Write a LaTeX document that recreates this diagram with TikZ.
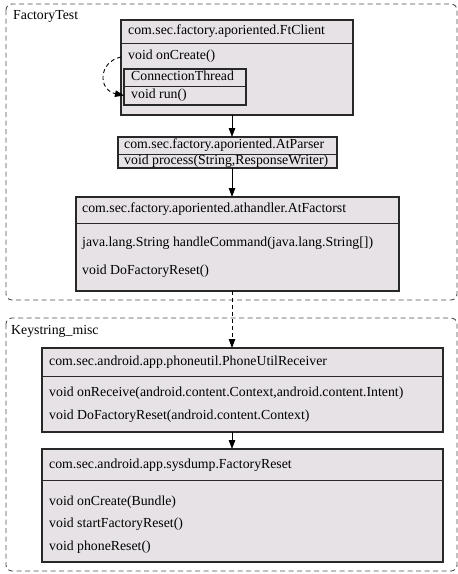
\documentclass[tikz,border=0pt]{standalone}
\usepackage{fontspec}
\setmainfont{Liberation Serif}
\usetikzlibrary{arrows.meta}
\definecolor{boxfill}{RGB}{230,226,229}
\definecolor{boxline}{RGB}{40,40,40}
\definecolor{clusterline}{RGB}{80,80,80}
\begin{document}
\begin{tikzpicture}[x=1pt,y=-1pt,
  cluster/.style={draw=clusterline, dash pattern=on 5pt off 3.5pt, line width=0.9pt, rounded corners=6pt},
  classbox/.style={draw=boxline, fill=boxfill, line width=1.3pt, anchor=north west, inner sep=0pt, outer sep=0pt},
  sepline/.style={draw=boxline, line width=0.9pt},
  lbl/.style={anchor=west, inner sep=0pt, text height=9.5pt, text depth=3pt, font=\fontsize{13.8pt}{16pt}\selectfont},
  flow/.style={draw=black, line width=0.9pt, -{Triangle[length=9pt,width=6.5pt]}},
  flowdash/.style={flow, dash pattern=on 4pt off 3pt},
]
\useasboundingbox (0,0) rectangle (458,574);

% clusters
\draw[cluster] (6,4) rectangle (457,300);
\node[lbl] (c1lbl) at (13,16) {FactoryTest};
\draw[cluster] (6,318) rectangle (457,571);
\node[lbl] (c2lbl) at (11,331) {Keystring\_misc};

% FtClient
\node[classbox, minimum width=232pt, minimum height=95pt] (ftc) at (121,20) {};
\draw[sepline] (121,43) -- (353,43);
\node[lbl] (ftct) at (128,31.5) {com.sec.factory.aporiented.FtClient};
\node[lbl] (ftcr1) at (128,56) {void onCreate()};
% ConnectionThread
\node[classbox, minimum width=122pt, minimum height=36pt, line width=1.1pt] (ct) at (124,69) {};
\node[anchor=north west, inner sep=0pt, outer sep=0pt, minimum width=122pt, minimum height=19pt] (run) at (124,86) {};
\draw[sepline] (124,86) -- (246,86);
\node[lbl] (ctt) at (131,77.5) {ConnectionThread};
\node[lbl] (runt) at (131,95.5) {void run()};

% AtParser
\node[classbox, minimum width=219pt, minimum height=31pt] (atp) at (118,137) {};
\draw[sepline] (118,154) -- (337,154);
\node[lbl] (atpt) at (124,145.5) {com.sec.factory.aporiented.AtParser};
\node[lbl] (atpr1) at (124,161.5) {void process(String,ResponseWriter)};

% AtFactorst
\node[classbox, minimum width=323pt, minimum height=94pt] (atf) at (76,197) {};
\draw[sepline] (76,223) -- (399,223);
\node[lbl] (atft) at (82,209) {com.sec.factory.aporiented.athandler.AtFactorst};
\node[lbl] (atfr1) at (82,243) {java.lang.String handleCommand(java.lang.String[])};
\node[lbl] (atfr2) at (82,271) {void DoFactoryReset()};

% PhoneUtilReceiver
\node[classbox, minimum width=401pt, minimum height=84pt] (pur) at (42,348) {};
\draw[sepline] (42,376) -- (443,376);
\node[lbl] (purt) at (49,362) {com.sec.android.app.phoneutil.PhoneUtilReceiver};
\node[lbl] (purr1) at (49,393.5) {void onReceive(android.content.Context,android.content.Intent)};
\node[lbl] (purr2) at (49,416) {void DoFactoryReset(android.content.Context)};

% FactoryReset
\node[classbox, minimum width=401pt, minimum height=113pt] (fr) at (42,449) {};
\draw[sepline] (42,480) -- (443,480);
\node[lbl] (frt) at (49,465) {com.sec.android.app.sysdump.FactoryReset};
\node[lbl] (frr1) at (49,502) {void onCreate(Bundle)};
\node[lbl] (frr2) at (49,524) {void startFactoryReset()};
\node[lbl] (frr3) at (49,547) {void phoneReset()};

% connectors
\coordinate (loopstart) at (121,57);
\draw[flowdash] (loopstart) .. controls (98,62) and (98,90) .. (run.west);
\draw[flow] ([xshift=111pt]ftc.south west) -- ([xshift=114pt]atp.north west);
\draw[flow] ([xshift=114pt]atp.south west) -- ([xshift=156pt]atf.north west);
\draw[flowdash] ([xshift=156pt]atf.south west) -- ([xshift=190pt]pur.north west);
\draw[flow] ([xshift=190pt]pur.south west) -- ([xshift=190pt]fr.north west);
\end{tikzpicture}
\end{document}
